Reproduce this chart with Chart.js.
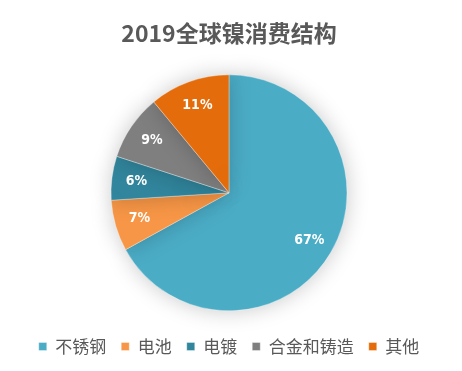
<!DOCTYPE html>
<html><head><meta charset="utf-8">
<script src="https://cdn.jsdelivr.net/npm/chart.js@4/dist/chart.umd.min.js"></script>
<style>html,body{margin:0;padding:0;background:#fff;}#wrap{width:462px;height:371px;}</style>
</head><body><div id="wrap"><canvas id="c" width="462" height="371"></canvas></div>
<script>
const titleText = '2019全球镍消费结构';
const categories = ['不锈钢', '电池', '电镀', '合金和铸造', '其他'];
const shares = [67, 7, 6, 9, 11];
const colors = ['#4bacc6', '#f79646', '#31859c', '#7f7f7f', '#e46c0a'];

const pieLabels = {
  id: 'pieLabels',
  afterDatasetsDraw(chart) {
    const ctx = chart.ctx;
    const meta = chart.getDatasetMeta(0);
    ctx.save();
    ctx.fillStyle = '#ffffff';
    ctx.font = 'bold 14px "DejaVu Sans Condensed", "DejaVu Sans", sans-serif';
    ctx.textAlign = 'center';
    ctx.textBaseline = 'middle';
    meta.data.forEach((arc, i) => {
      const p = arc.getProps(['x','y','startAngle','endAngle','outerRadius'], true);
      const mid = (p.startAngle + p.endAngle) / 2;
      const d = p.outerRadius * 0.79;
      ctx.fillText(shares[i] + '%', p.x + Math.cos(mid) * d, p.y + Math.sin(mid) * d);
    });
    ctx.restore();
  }
};
const pieShadow = {
  id: 'pieShadow',
  beforeDatasetsDraw(chart) {
    const ctx = chart.ctx;
    ctx.save();
    ctx.shadowColor = 'rgba(0,0,0,0.22)';
    ctx.shadowBlur = 22;
  },
  afterDatasetsDraw(chart) { chart.ctx.restore(); }
};

new Chart(document.getElementById('c'), {
  type: 'pie',
  data: {
    labels: categories,
    datasets: [{ data: shares, backgroundColor: colors, borderColor: 'rgba(255,255,255,0.35)', borderWidth: 1, radius: 118 }]
  },
  options: {
    responsive: false,
    animation: false,
    layout: { padding: { left: 0, right: 4, top: 0, bottom: 6 } },
    plugins: {
      tooltip: { enabled: false },
      title: {
        display: true, text: titleText, color: '#595959',
        font: { family: '"Noto Sans CJK SC", sans-serif', size: 23, weight: 'bold' },
        padding: { top: 19, bottom: 16 }
      },
      legend: {
        position: 'bottom',
        labels: {
          color: '#595959', boxWidth: 8, boxHeight: 8, padding: 15,
          font: { family: '"Noto Sans CJK SC", sans-serif', size: 17 }
        }
      }
    }
  },
  plugins: [pieShadow, pieLabels]
});
</script></body></html>
